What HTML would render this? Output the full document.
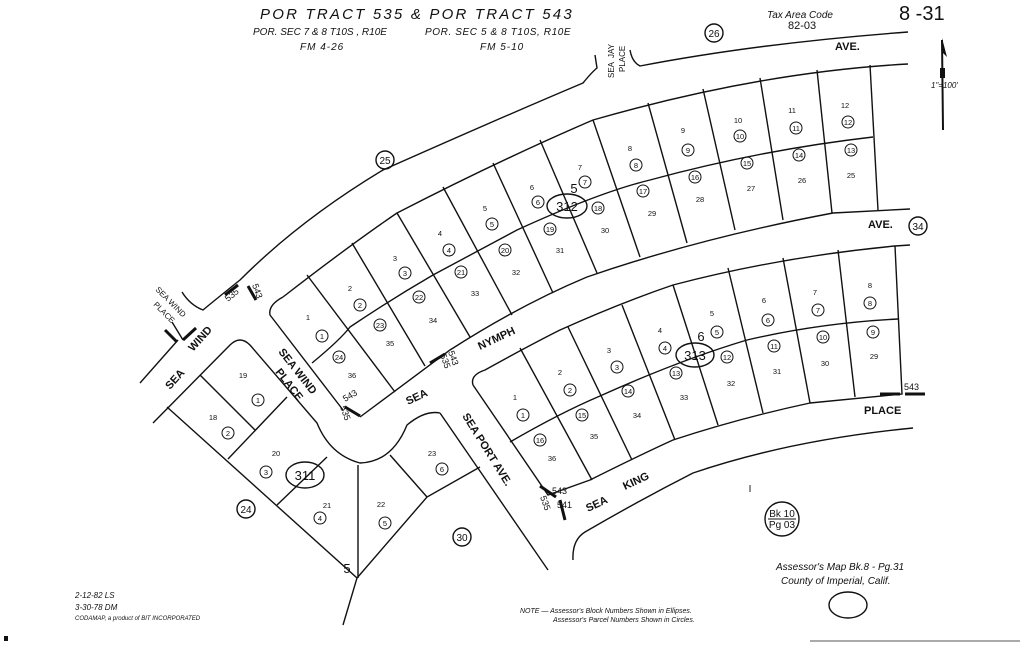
<!DOCTYPE html>
<html><head><meta charset="utf-8"><style>
html,body{margin:0;padding:0;background:#fff}
svg{display:block}
text{font-family:"Liberation Sans",sans-serif;fill:#111}
.it{font-style:italic}
.c{fill:none;stroke:#111;stroke-width:1.4}
</style></head><body>
<svg width="1024" height="645" viewBox="0 0 1024 645" xmlns="http://www.w3.org/2000/svg">
<rect width="1024" height="645" fill="#fff"/>
<!-- header -->
<text x="260" y="19" font-size="15" class="it" letter-spacing="2.2">POR  TRACT  535   &amp;  POR   TRACT  543</text>
<text x="253" y="35" font-size="10" class="it">POR. SEC 7 &amp; 8  T10S , R10E</text>
<text x="425" y="35" font-size="10" class="it" letter-spacing="0.6">POR.  SEC  5  &amp;  8  T10S, R10E</text>
<text x="300" y="50" font-size="10" class="it" letter-spacing="1">FM  4-26</text>
<text x="480" y="50" font-size="10" class="it" letter-spacing="1">FM  5-10</text>
<text x="767" y="18" font-size="10" class="it">Tax Area Code</text>
<text x="788" y="29" font-size="11">82-03</text>
<text x="899" y="20" font-size="20">8 -31</text>
<!-- compass -->
<line x1="942" y1="40" x2="943" y2="130" stroke="#111" stroke-width="2"/>
<polygon points="942,38 947,57 942,52" fill="#111"/>
<rect x="940" y="68" width="5" height="10" fill="#111"/>
<text x="931" y="88" font-size="8" class="it">1"=100'</text>
<!-- roads / boundaries -->
<path class="c" d="M595,55 L597,68 Q592,72 583,83 Q500,118 383,170 Q300,220 240,280 Q215,300 203,310 Q190,305 182,292"/>
<path class="c" d="M630,50 Q632,62 640,66 Q760,43 908,32"/>
<!-- block 312 -->
<path class="c" d="M283,297 Q350,245 397,213 Q500,160 593,120 Q760,72 908,64"/>
<path class="c" d="M283,297 Q268,305 270,315 L343,410"/>
<path class="c" d="M360,417 L450,350 Q520,305 587,277 Q700,238 833,213 L910,209"/>
<path class="c" d="M312,363 Q340,340 350,327 Q390,300 433,275 Q480,250 517,230 Q600,192 650,180 Q760,150 873,137"/>
<line class="c" x1="870" y1="65" x2="878" y2="210"/>
<g class="c">
<line x1="307" y1="275" x2="395" y2="392"/><line x1="352" y1="243" x2="425" y2="366"/>
<line x1="397" y1="213" x2="470" y2="337"/><line x1="443" y1="187" x2="512" y2="315"/>
<line x1="493" y1="163" x2="553" y2="293"/><line x1="540" y1="140" x2="597" y2="273"/>
<line x1="593" y1="120" x2="640" y2="257"/><line x1="648" y1="103" x2="687" y2="243"/>
<line x1="703" y1="89" x2="735" y2="230"/><line x1="760" y1="78" x2="783" y2="220"/>
<line x1="817" y1="70" x2="832" y2="213"/>
</g>
<!-- block 313 -->
<path class="c" d="M473,385 Q470,375 485,370 Q530,345 560,330 Q620,303 673,285 Q780,257 895,246 L910,245"/>
<path class="c" d="M473,385 L548,495 L590,480 Q640,455 673,440 Q740,418 810,403 L902,394 L895,246"/>
<path class="c" d="M510,442 Q560,413 600,396 Q680,360 747,340 Q820,323 898,319"/>
<g class="c">
<line x1="520" y1="348" x2="592" y2="480"/><line x1="568" y1="327" x2="632" y2="460"/>
<line x1="622" y1="305" x2="675" y2="440"/><line x1="673" y1="285" x2="718" y2="425"/>
<line x1="728" y1="268" x2="763" y2="413"/><line x1="783" y1="258" x2="810" y2="403"/>
<line x1="838" y1="250" x2="855" y2="397"/>
</g>
<path class="c" d="M573,560 Q572,540 585,532 Q640,500 693,473 Q790,440 913,428"/>
<path class="c" d="M440,413 L548,570"/>
<!-- block 311 -->
<path class="c" d="M140,383 L178,340 M183,340 L172,322"/>
<path class="c" d="M153,423 L230,345 Q240,335 250,345 L317,423 Q330,455 360,463 Q392,462 407,425 Q425,410 440,413"/>
<path class="c" d="M167,407 L357,578 L343,625 M357,578 L427,497 L480,467"/>
<g class="c">
<line x1="200" y1="375" x2="255" y2="430"/><line x1="287" y1="397" x2="228" y2="459"/>
<line x1="327" y1="457" x2="277" y2="505"/><line x1="358" y1="465" x2="358" y2="578"/>
<line x1="390" y1="455" x2="427" y2="497"/>
</g>
<!-- markers -->
<g stroke="#111" stroke-width="3">
<line x1="225" y1="295" x2="238" y2="285"/><line x1="248" y1="286" x2="256" y2="300"/>
<line x1="165" y1="330" x2="177" y2="342"/><line x1="183" y1="340" x2="196" y2="328"/>
<line x1="345" y1="407" x2="360" y2="416"/><line x1="430" y1="363" x2="445" y2="354"/>
<line x1="540" y1="486" x2="556" y2="497"/><line x1="560" y1="500" x2="565" y2="520"/>
<line x1="880" y1="394" x2="900" y2="394"/><line x1="905" y1="394" x2="925" y2="394"/>
</g>
<g font-size="9">
<text x="228" y="302" transform="rotate(-40 228 302)">535</text>
<text x="252" y="285" transform="rotate(70 252 285)">543</text>
<text x="345" y="402" transform="rotate(-30 345 402)">543</text>
<text x="340" y="407" transform="rotate(70 340 407)">535</text>
<text x="448" y="352" transform="rotate(70 448 352)">543</text>
<text x="440" y="355" transform="rotate(70 440 355)">535</text>
<text x="552" y="494">543</text><text x="540" y="497" transform="rotate(70 540 497)">535</text>
<text x="557" y="508">541</text>
<text x="904" y="390">543</text>
</g>
<!-- road labels -->
<g font-size="11" font-weight="bold">
<text x="835" y="50">AVE.</text><text x="868" y="228">AVE.</text>
<text x="864" y="414">PLACE</text>
<text x="480" y="350" transform="rotate(-25 480 350)">NYMPH</text>
<text x="408" y="405" transform="rotate(-25 408 405)">SEA</text>
<text x="588" y="512" transform="rotate(-25 588 512)">SEA</text>
<text x="625" y="490" transform="rotate(-25 625 490)">KING</text>
<text x="462" y="416" transform="rotate(58 462 416)">SEA  PORT  AVE.</text>
<text x="278" y="352" transform="rotate(52 278 352)">SEA  WIND</text>
<text x="275" y="372" transform="rotate(52 275 372)">PLACE</text>
<text x="170" y="390" transform="rotate(-48 170 390)">SEA</text>
<text x="193" y="352" transform="rotate(-48 193 352)">WIND</text>
</g>
<g font-size="8">
<text x="155" y="290" transform="rotate(45 155 290)">SEA   WIND</text>
<text x="153" y="305" transform="rotate(45 153 305)">PLACE</text>
<text x="614" y="78" transform="rotate(-90 614 78)">SEA</text>
<text x="614" y="58" transform="rotate(-90 614 58)">JAY</text>
<text x="625" y="72" transform="rotate(-90 625 72)">PLACE</text>
</g>
<!-- block ellipses -->
<g fill="none" stroke="#111" stroke-width="1.4">
<ellipse cx="567" cy="206" rx="20" ry="12"/><ellipse cx="695" cy="355" rx="19" ry="12"/>
<ellipse cx="305" cy="475" rx="19" ry="13"/><ellipse cx="848" cy="605" rx="19" ry="13"/>
<circle cx="385" cy="160" r="9"/><circle cx="714" cy="33" r="9"/><circle cx="918" cy="226" r="9"/>
<circle cx="246" cy="509" r="9"/><circle cx="462" cy="537" r="9"/><circle cx="782" cy="519" r="17"/>
</g>
<g font-size="13" text-anchor="middle">
<text x="567" y="211">312</text><text x="695" y="360">313</text><text x="305" y="480">311</text>
<text x="574" y="193">5</text><text x="701" y="341">6</text><text x="347" y="573">5</text>
</g>
<g font-size="10" text-anchor="middle">
<text x="385" y="164">25</text><text x="714" y="37">26</text><text x="918" y="230">34</text>
<text x="246" y="513">24</text><text x="462" y="541">30</text>
<text x="782" y="517">Bk 10</text><text x="782" y="528">Pg 03</text>
<text x="750" y="492">I</text>
</g>
<line x1="768" y1="519" x2="796" y2="519" stroke="#111"/>
<!-- parcel circles -->
<g fill="none" stroke="#111" stroke-width="1">
<circle cx="322" cy="336" r="6"/><circle cx="360" cy="305" r="6"/><circle cx="405" cy="273" r="6"/><circle cx="449" cy="250" r="6"/>
<circle cx="492" cy="224" r="6"/><circle cx="538" cy="202" r="6"/><circle cx="585" cy="182" r="6"/><circle cx="636" cy="165" r="6"/>
<circle cx="688" cy="150" r="6"/><circle cx="740" cy="136" r="6"/><circle cx="796" cy="128" r="6"/><circle cx="848" cy="122" r="6"/>
<circle cx="851" cy="150" r="6"/><circle cx="799" cy="155" r="6"/><circle cx="747" cy="163" r="6"/><circle cx="695" cy="177" r="6"/>
<circle cx="643" cy="191" r="6"/><circle cx="598" cy="208" r="6"/><circle cx="550" cy="229" r="6"/><circle cx="505" cy="250" r="6"/>
<circle cx="461" cy="272" r="6"/><circle cx="419" cy="297" r="6"/><circle cx="380" cy="325" r="6"/><circle cx="339" cy="357" r="6"/>
<circle cx="870" cy="303" r="6"/><circle cx="818" cy="310" r="6"/><circle cx="768" cy="320" r="6"/><circle cx="717" cy="332" r="6"/>
<circle cx="665" cy="348" r="6"/><circle cx="617" cy="367" r="6"/><circle cx="570" cy="390" r="6"/><circle cx="523" cy="415" r="6"/>
<circle cx="873" cy="332" r="6"/><circle cx="823" cy="337" r="6"/><circle cx="774" cy="346" r="6"/><circle cx="727" cy="357" r="6"/>
<circle cx="676" cy="373" r="6"/><circle cx="628" cy="391" r="6"/><circle cx="582" cy="415" r="6"/><circle cx="540" cy="440" r="6"/>
<circle cx="258" cy="400" r="6"/><circle cx="228" cy="433" r="6"/><circle cx="266" cy="472" r="6"/><circle cx="320" cy="518" r="6"/>
<circle cx="385" cy="523" r="6"/><circle cx="442" cy="469" r="6"/>
</g>
<g font-size="7.5" text-anchor="middle">
<text x="322" y="339">1</text><text x="360" y="308">2</text><text x="405" y="276">3</text><text x="449" y="253">4</text>
<text x="492" y="227">5</text><text x="538" y="205">6</text><text x="585" y="185">7</text><text x="636" y="168">8</text>
<text x="688" y="153">9</text><text x="740" y="139">10</text><text x="796" y="131">11</text><text x="848" y="125">12</text>
<text x="851" y="153">13</text><text x="799" y="158">14</text><text x="747" y="166">15</text><text x="695" y="180">16</text>
<text x="643" y="194">17</text><text x="598" y="211">18</text><text x="550" y="232">19</text><text x="505" y="253">20</text>
<text x="461" y="275">21</text><text x="419" y="300">22</text><text x="380" y="328">23</text><text x="339" y="360">24</text>
<text x="870" y="306">8</text><text x="818" y="313">7</text><text x="768" y="323">6</text><text x="717" y="335">5</text>
<text x="665" y="351">4</text><text x="617" y="370">3</text><text x="570" y="393">2</text><text x="523" y="418">1</text>
<text x="873" y="335">9</text><text x="823" y="340">10</text><text x="774" y="349">11</text><text x="727" y="360">12</text>
<text x="676" y="376">13</text><text x="628" y="394">14</text><text x="582" y="418">15</text><text x="540" y="443">16</text>
<text x="258" y="403">1</text><text x="228" y="436">2</text><text x="266" y="475">3</text><text x="320" y="521">4</text>
<text x="385" y="526">5</text><text x="442" y="472">6</text>
</g>
<g font-size="7.5" text-anchor="middle">
<text x="308" y="320">1</text><text x="350" y="291">2</text><text x="395" y="261">3</text><text x="440" y="236">4</text>
<text x="485" y="211">5</text><text x="532" y="190">6</text><text x="580" y="170">7</text><text x="630" y="151">8</text>
<text x="683" y="133">9</text><text x="738" y="123">10</text><text x="792" y="113">11</text><text x="845" y="108">12</text>
<text x="851" y="178">25</text><text x="802" y="183">26</text><text x="751" y="191">27</text><text x="700" y="202">28</text>
<text x="652" y="216">29</text><text x="605" y="233">30</text><text x="560" y="253">31</text><text x="516" y="275">32</text>
<text x="475" y="296">33</text><text x="433" y="323">34</text><text x="390" y="346">35</text><text x="352" y="378">36</text>
<text x="870" y="288">8</text><text x="815" y="295">7</text><text x="764" y="303">6</text><text x="712" y="316">5</text>
<text x="660" y="333">4</text><text x="609" y="353">3</text><text x="560" y="375">2</text><text x="515" y="400">1</text>
<text x="874" y="359">29</text><text x="825" y="366">30</text><text x="777" y="374">31</text><text x="731" y="386">32</text>
<text x="684" y="400">33</text><text x="637" y="418">34</text><text x="594" y="439">35</text><text x="552" y="461">36</text>
<text x="243" y="378">19</text><text x="213" y="420">18</text><text x="276" y="456">20</text><text x="327" y="508">21</text>
<text x="381" y="507">22</text><text x="432" y="456">23</text>
</g>
<!-- footer -->
<text x="776" y="570" font-size="10" class="it">Assessor's  Map  Bk.8 -  Pg.31</text>
<text x="781" y="584" font-size="10" class="it">County  of  Imperial,  Calif.</text>
<text x="75" y="598" font-size="8" class="it">2-12-82 LS</text>
<text x="75" y="610" font-size="8" class="it">3-30-78  DM</text>
<text x="75" y="620" font-size="6" class="it">CODAMAP, a product of BIT INCORPORATED</text>
<text x="520" y="613" font-size="7" class="it">NOTE — Assessor's Block Numbers Shown in Ellipses.</text>
<text x="553" y="622" font-size="7" class="it">Assessor's Parcel Numbers Shown in Circles.</text>
<line x1="810" y1="641" x2="1020" y2="641" stroke="#555" stroke-width="1"/>
<rect x="4" y="636" width="4" height="5" fill="#111"/>
</svg>
</body></html>
